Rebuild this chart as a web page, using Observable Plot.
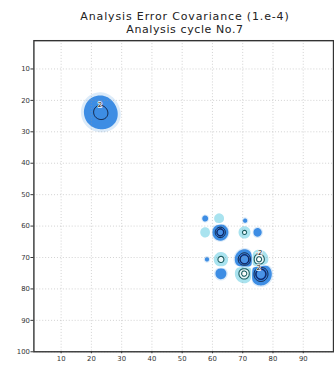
<!DOCTYPE html>
<html>
<head>
<meta charset="utf-8">
<script src="https://cdn.jsdelivr.net/npm/d3@7"></script>
<script src="https://cdn.jsdelivr.net/npm/@observablehq/plot@0.6"></script>
<style>
  html, body { margin: 0; padding: 0; background: #fff; overflow: hidden; }
  #head { position: relative; width: 370px; height: 34px; font-family: "DejaVu Sans", sans-serif;
          font-size: 11px; line-height: 12.5px; color: #222; text-align: center; }
  #head div { position: absolute; left: 0; width: 370px; }
  #chart svg { display: block; }
</style>
</head>
<body>
<div id="head">
  <div style="top:11px; letter-spacing:0.85px">Analysis Error Covariance (1.e-4)</div>
  <div style="top:23.5px; letter-spacing:0.6px">Analysis cycle No.7</div>
</div>
<div id="chart"></div>
<script>
// Covariance centres (grid units), peak value (1.e-4) and spread of each feature
const blobX     = [22.8, 25.2, 57.6, 62.2, 70.8, 57.6, 62.6, 70.6, 74.9, 58.2, 62.8, 70.6, 75.4, 62.8, 70.5, 76.0];
const blobY     = [23.7, 25.0, 57.6, 57.6, 58.3, 62.0, 62.0, 62.0, 62.0, 70.6, 70.6, 70.6, 70.6, 75.1, 75.1, 75.3];
const blobPeak  = [2.74, 0.5,  1.0, -1.2,  0.6, -1.2,  7.0, -2.6,  1.2,  0.6, -3.0,  8.0, -5.0,  1.5, -5.0,  8.0];
const blobWidth = [2.5,  2.2,  0.62, 0.98, 0.6,  0.98, 1.05, 0.95, 0.82, 0.6,  1.1,  1.25, 1.3,  1.0,  1.3,  1.4];

// Shading levels and their colours
const levels      = [-4, -2, -0.3, 0.12, 0.3, 3, 5];
const levelColors = ["#eaf7fa", "#a9e3ef", "#ffffff", "#dcebf9", "#3d8de4", "#1f57c0", "#4a93e6"];

// Contour line levels
const lineLevels = [2, 4];

// Contour labels
const labelX    = [22.8, 75.4, 75.3];
const labelY    = [21.4, 68.5, 73.2];
const labelText = ["2", "-2", "2"];

// Axis ticks
const xTicks = [10, 20, 30, 40, 50, 60, 70, 80, 90];
const yTicks = [10, 20, 30, 40, 50, 60, 70, 80, 90, 100];

const field = (x, y) => {
  let v = 0;
  for (let i = 0; i < blobX.length; ++i) {
    const dx = x - blobX[i], dy = y - blobY[i], w = blobWidth[i];
    v += blobPeak[i] * Math.exp(-(dx * dx + dy * dy) / (2 * w * w));
  }
  return v;
};
const negField = (x, y) => -field(x, y);

const extent = {x1: 1, y1: 1, x2: 100, y2: 100, pixelSize: 1};

const chart = Plot.plot({
  width: 340,
  height: 334,
  marginLeft: 34,
  marginRight: 1,
  marginTop: 6.3,
  marginBottom: 11,
  x: {domain: [1, 100], axis: null},
  y: {domain: [1, 100], reverse: true, axis: null},
  color: {type: "ordinal", domain: levels, range: levelColors},
  style: {fontFamily: "DejaVu Sans, sans-serif", fontSize: "7px", color: "#333", background: "#fff"},
  marks: [
    Plot.contour({...extent, fill: field, thresholds: levels, stroke: "none"}),
    Plot.gridX(xTicks, {stroke: "#999", strokeOpacity: 0.45, strokeDasharray: "1,2"}),
    Plot.gridY(yTicks, {stroke: "#999", strokeOpacity: 0.45, strokeDasharray: "1,2"}),
    Plot.contour({...extent, value: field, thresholds: lineLevels, stroke: "#0c1630", strokeWidth: 0.9, fill: "none"}),
    Plot.contour({...extent, value: negField, thresholds: lineLevels, stroke: "#1b5c60", strokeWidth: 1.1, fill: "none"}),
    Plot.text(labelText, {x: (d, i) => labelX[i], y: (d, i) => labelY[i], text: d => d,
      fill: "#111", stroke: "#fff", strokeWidth: 1.5, fontSize: 7}),
    Plot.axisX(xTicks, {anchor: "bottom", tickSize: 2, tickPadding: 2, fill: "#333"}),
    Plot.axisY(yTicks, {anchor: "left", tickSize: 3, tickPadding: 1, fill: "#333"}),
    Plot.frame({stroke: "#333", strokeWidth: 1.4})
  ]
});
document.getElementById("chart").appendChild(chart);
</script>
</body>
</html>
